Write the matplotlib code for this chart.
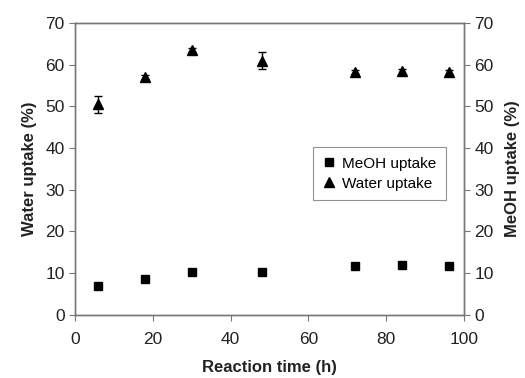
import matplotlib
matplotlib.use("Agg")
import matplotlib.pyplot as plt
from matplotlib.lines import Line2D

plt.rcParams['font.family'] = ['Liberation Sans', 'DejaVu Sans']

time_h = [6, 18, 30, 48, 72, 84, 96]
water_uptake = [50.5, 57.0, 63.5, 61.0, 58.3, 58.4, 58.2]
water_err = [2.0, 0.5, 0.5, 2.1, 0.5, 0.5, 0.5]
meoh_uptake = [6.9, 8.7, 10.4, 10.4, 11.8, 11.9, 11.8]
meoh_err = [0.5, 0.5, 0.5, 0.5, 0.4, 0.4, 0.4]

x_ticks = [0, 20, 40, 60, 80, 100]
y_ticks = [0, 10, 20, 30, 40, 50, 60, 70]

fig = plt.figure(figsize=(5.25, 3.78), dpi=100)
ax = fig.add_axes([0.143, 0.167, 0.741, 0.772])
ax2 = ax.twinx()

gray = '#777777'
for a in (ax, ax2):
    for s in a.spines.values():
        s.set_color(gray)
        s.set_linewidth(1.0)
    a.set_ylim(0, 70)
    a.set_yticks(y_ticks)
    a.tick_params(axis='both', colors=gray, labelcolor='#222222',
                  labelsize=12.5, length=4, width=0.8, direction='out')

ax.set_xlim(0, 100)
ax.set_xticks(x_ticks)
ax.tick_params(axis='x', pad=8)

ax2.errorbar(time_h, meoh_uptake, yerr=meoh_err, fmt='s', color='black',
             markersize=6, capsize=3, elinewidth=1)
ax.errorbar(time_h, water_uptake, yerr=water_err, fmt='^', color='black',
            markersize=7, capsize=3, elinewidth=1)

ax.set_xlabel('Reaction time (h)', fontsize=12, fontweight='bold', color='#222222', labelpad=10)
ax.set_ylabel('Water uptake (%)', fontsize=12, fontweight='bold', color='#222222', labelpad=6)
ax2.set_ylabel('MeOH uptake (%)', fontsize=12, fontweight='bold', color='#222222', labelpad=8)

handles = [Line2D([], [], linestyle='none', marker='s', color='black', markersize=6),
           Line2D([], [], linestyle='none', marker='^', color='black', markersize=7)]
labels = ['MeOH uptake', 'Water uptake']
leg = ax2.legend(handles, labels, loc='upper left', bbox_to_anchor=(0.593, 0.6),
                 fontsize=11, frameon=True, fancybox=False, edgecolor=gray,
                 handlelength=0.8, handletextpad=0.5, borderpad=0.6, labelspacing=0.4)
leg.get_frame().set_linewidth(0.8)

fig.savefig('out.png', dpi=100)
